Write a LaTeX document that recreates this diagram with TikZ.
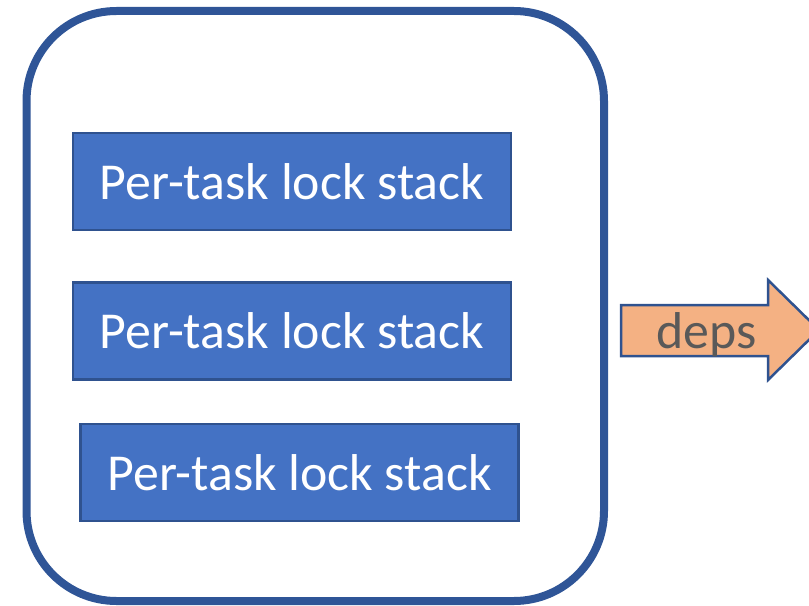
\documentclass[tikz,border=0pt]{standalone}
\usepackage{fontspec}
\setmainfont{Carlito}
\definecolor{outerblue}{HTML}{2F5597}
\definecolor{boxfill}{HTML}{4472C4}
\definecolor{boxline}{HTML}{2F528F}
\definecolor{arrowfill}{HTML}{F4B183}
\definecolor{textgray}{HTML}{595959}
\tikzset{
  stackbox/.style={draw=boxline, line width=2.2bp, fill=boxfill, text=white,
    font=\fontsize{52}{60}\selectfont, minimum width=438bp, minimum height=97bp,
    inner sep=0pt, anchor=center},
  outerbox/.style={draw=outerblue, line width=8bp, rounded corners=90bp},
  arrowshape/.style={draw=boxline, line width=2.5bp, fill=arrowfill},
}
\begin{document}
\begin{tikzpicture}[x=1bp,y=-1bp]
\useasboundingbox (0,0) rectangle (809,606);
\clip (0,0) rectangle (809,606);
\draw[outerbox] (26.5,11) rectangle (604,601);
\node[stackbox] (s1) at (292,181.5) {Per-task lock stack};
\node[stackbox] (s2) at (292,331) {Per-task lock stack};
\node[stackbox] (s3) at (299.5,472.5) {Per-task lock stack};
\draw[arrowshape] (621,305) -- (768,305) -- (768,280) -- (819,330) -- (768,380) -- (768,356) -- (621,356) -- cycle;
\node[text=textgray, font=\fontsize{52}{60}\selectfont, inner sep=0pt, anchor=base] (deps) at (706.5,348) {deps};
\end{tikzpicture}
\end{document}
